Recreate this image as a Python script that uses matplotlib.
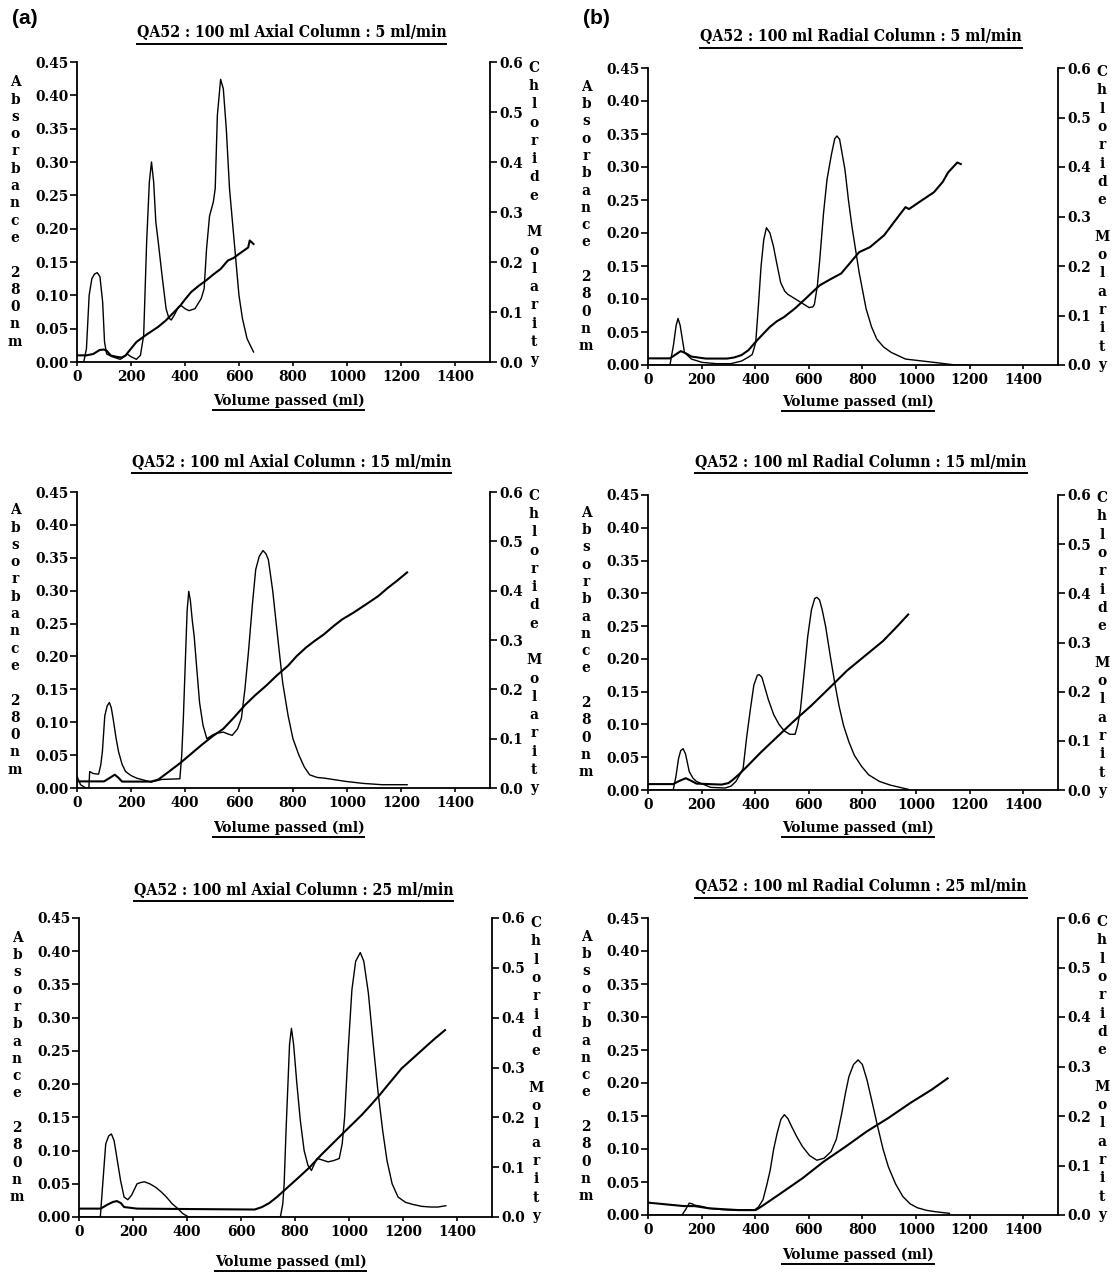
import matplotlib
matplotlib.use('Agg')
import matplotlib.pyplot as plt
from matplotlib.lines import Line2D

# ---- data (volume ml, absorbance 280nm / chloride M) ----
a1_vol = [0, 25, 35, 45, 55, 65, 75, 85, 95, 102, 110, 130, 160, 175, 186, 200, 220, 235, 247, 258,
          268, 276, 284, 292, 301, 315, 330, 340, 349, 360, 375, 385, 400, 415, 437, 460, 471, 480,
          491, 505, 512, 520, 532, 542, 553, 565, 586, 600, 613, 630, 654]
a1_abs = [0, 0, 0.02, 0.10, 0.125, 0.132, 0.134, 0.128, 0.09, 0.03, 0.012, 0.008, 0.004, 0.008, 0.012,
          0.008, 0.004, 0.01, 0.04, 0.18, 0.27, 0.30, 0.27, 0.21, 0.18, 0.13, 0.08, 0.066, 0.063, 0.07,
          0.082, 0.085, 0.08, 0.077, 0.08, 0.095, 0.11, 0.17, 0.219, 0.24, 0.26, 0.37, 0.424, 0.41,
          0.35, 0.26, 0.164, 0.10, 0.065, 0.035, 0.015]
a1_cvol = [0, 35, 60, 84, 100, 111, 125, 150, 165, 180, 190, 205, 220, 261, 300, 329, 360, 383, 400,
           423, 450, 478, 505, 532, 559, 580, 600, 634, 640, 650, 654]
a1_cl = [0.0133, 0.0133, 0.016, 0.024, 0.025, 0.022, 0.013, 0.01, 0.009, 0.013, 0.02, 0.03, 0.04,
         0.056, 0.07, 0.083, 0.1, 0.113, 0.125, 0.14, 0.152, 0.163, 0.175, 0.186, 0.203, 0.208, 0.216,
         0.229, 0.243, 0.238, 0.236]

b1_vol = [0, 82, 95, 105, 112, 120, 136, 162, 202, 255, 309, 349, 375, 389, 402, 412, 422, 432, 442,
          455, 468, 480, 495, 510, 522, 562, 601, 615, 621, 632, 641, 655, 668, 685, 697, 705, 715,
          735, 748, 761, 788, 814, 834, 854, 880, 908, 961, 1067, 1147, 1190]
b1_abs = [0, 0, 0.03, 0.06, 0.0705, 0.06, 0.019, 0.009, 0.004, 0.002, 0.002, 0.006, 0.012, 0.016,
          0.034, 0.09, 0.15, 0.19, 0.208, 0.2, 0.18, 0.155, 0.125, 0.112, 0.107, 0.097, 0.087, 0.088,
          0.092, 0.12, 0.16, 0.23, 0.281, 0.32, 0.343, 0.347, 0.342, 0.296, 0.25, 0.21, 0.14, 0.085,
          0.058, 0.039, 0.027, 0.019, 0.009, 0.004, 0.0, 0.0]
b1_cvol = [0, 82, 100, 122, 140, 162, 216, 295, 320, 349, 375, 402, 430, 455, 480, 508, 550, 588, 615,
           641, 680, 721, 760, 788, 828, 881, 920, 961, 974, 1020, 1067, 1100, 1120, 1154, 1167]
b1_cl = [0.0134, 0.0134, 0.02, 0.028, 0.024, 0.017, 0.013, 0.013, 0.015, 0.02, 0.03, 0.047, 0.063,
         0.077, 0.088, 0.097, 0.115, 0.134, 0.148, 0.161, 0.173, 0.185, 0.21, 0.228, 0.238, 0.262,
         0.29, 0.319, 0.315, 0.332, 0.349, 0.37, 0.389, 0.409, 0.406]

a2_vol = [0, 13, 33, 44, 47, 60, 80, 88, 94, 103, 112, 120, 127, 134, 145, 154, 167, 180, 200, 221,
          274, 314, 381, 388, 394, 402, 408, 414, 420, 427, 434, 444, 454, 467, 481, 500, 515, 542,
          560, 575, 595, 609, 622, 635, 650, 662, 675, 689, 700, 709, 725, 743, 762, 782, 800, 822,
          842, 862, 890, 916, 996, 1060, 1130, 1223]
a2_abs = [0.018, 0.005, 0, 0, 0.025, 0.022, 0.021, 0.035, 0.055, 0.11, 0.125, 0.13, 0.122, 0.105,
          0.075, 0.055, 0.036, 0.025, 0.019, 0.015, 0.009, 0.013, 0.014, 0.05, 0.106, 0.2, 0.27, 0.299,
          0.285, 0.255, 0.231, 0.18, 0.13, 0.095, 0.075, 0.08, 0.083, 0.085, 0.082, 0.08, 0.09, 0.106,
          0.15, 0.206, 0.28, 0.332, 0.352, 0.361, 0.356, 0.347, 0.3, 0.231, 0.16, 0.11, 0.075, 0.05,
          0.032, 0.02, 0.016, 0.015, 0.01, 0.007, 0.005, 0.005]
a2_cvol = [0, 100, 120, 140, 155, 167, 274, 301, 340, 381, 420, 461, 500, 542, 580, 622, 660, 702, 740,
           782, 815, 849, 880, 916, 950, 983, 1023, 1070, 1116, 1150, 1183, 1223]
a2_cl = [0.0134, 0.0134, 0.02, 0.027, 0.02, 0.013, 0.013, 0.017, 0.033, 0.05, 0.068, 0.087, 0.104,
         0.12, 0.142, 0.168, 0.188, 0.208, 0.228, 0.248, 0.268, 0.285, 0.298, 0.312, 0.328, 0.342,
         0.355, 0.372, 0.389, 0.405, 0.419, 0.437]

b2_vol = [0, 94, 104, 114, 122, 131, 140, 154, 168, 181, 234, 288, 310, 328, 345, 355, 368, 382, 395,
          408, 415, 425, 437, 449, 469, 489, 509, 529, 549, 559, 569, 583, 596, 610, 622, 630, 640,
          650, 663, 680, 697, 713, 730, 750, 770, 797, 824, 864, 904, 940, 971]
b2_abs = [0, 0, 0.02, 0.048, 0.06, 0.063, 0.055, 0.028, 0.018, 0.013, 0.004, 0.003, 0.006, 0.013,
          0.025, 0.033, 0.08, 0.123, 0.16, 0.175, 0.176, 0.172, 0.155, 0.138, 0.115, 0.1, 0.09, 0.085,
          0.085, 0.1, 0.123, 0.18, 0.234, 0.275, 0.292, 0.294, 0.29, 0.275, 0.249, 0.205, 0.163, 0.128,
          0.098, 0.073, 0.053, 0.036, 0.023, 0.013, 0.0075, 0.004, 0.001]
b2_cvol = [0, 94, 115, 141, 160, 181, 275, 300, 315, 340, 368, 420, 476, 540, 610, 676, 743, 810, 877,
           925, 971]
b2_cl = [0.012, 0.012, 0.018, 0.024, 0.019, 0.013, 0.011, 0.014, 0.02, 0.032, 0.047, 0.076, 0.105,
         0.138, 0.172, 0.207, 0.243, 0.273, 0.303, 0.33, 0.357]

a3_vol = [0, 79, 88, 99, 110, 120, 130, 140, 154, 167, 181, 195, 215, 230, 242, 262, 283, 304, 324,
          345, 365, 385, 406, 515, 746, 755, 760, 767, 774, 780, 787, 795, 807, 820, 834, 848, 861,
          872, 882, 900, 923, 944, 964, 975, 984, 997, 1011, 1025, 1042, 1055, 1072, 1090, 1107, 1125,
          1141, 1160, 1182, 1210, 1236, 1270, 1304, 1330, 1359]
a3_abs = [0, 0, 0.05, 0.11, 0.122, 0.125, 0.115, 0.09, 0.055, 0.03, 0.026, 0.033, 0.05, 0.052, 0.053,
          0.05, 0.045, 0.038, 0.03, 0.02, 0.013, 0.005, 0, 0, 0, 0.02, 0.05, 0.13, 0.2, 0.26, 0.284,
          0.26, 0.201, 0.145, 0.1, 0.078, 0.07, 0.08, 0.088, 0.086, 0.083, 0.085, 0.088, 0.11, 0.15,
          0.25, 0.342, 0.385, 0.398, 0.385, 0.337, 0.26, 0.191, 0.13, 0.085, 0.05, 0.03, 0.022, 0.019,
          0.016, 0.015, 0.015, 0.017]
a3_cvol = [0, 80, 106, 125, 140, 155, 167, 215, 400, 651, 678, 705, 733, 774, 815, 855, 896, 937, 978,
           1012, 1046, 1080, 1114, 1155, 1195, 1236, 1277, 1316, 1356]
a3_cl = [0.0168, 0.0168, 0.025, 0.03, 0.032, 0.028, 0.02, 0.0168, 0.016, 0.015, 0.02, 0.028, 0.04,
         0.06, 0.08, 0.1, 0.124, 0.146, 0.168, 0.186, 0.204, 0.224, 0.245, 0.272, 0.298, 0.318, 0.338,
         0.357, 0.375]

b3_vol = [0, 127, 140, 154, 164, 174, 200, 228, 281, 335, 395, 412, 429, 443, 456, 469, 482, 496, 509,
          522, 536, 556, 576, 603, 630, 657, 683, 703, 723, 737, 750, 767, 784, 800, 817, 837, 857,
          877, 897, 924, 951, 978, 1005, 1040, 1072, 1125]
b3_abs = [0, 0, 0.008, 0.018, 0.017, 0.015, 0.013, 0.01, 0.008, 0.007, 0.007, 0.012, 0.023, 0.045,
          0.068, 0.1, 0.124, 0.145, 0.152, 0.146, 0.134, 0.118, 0.104, 0.09, 0.083, 0.086, 0.096, 0.115,
          0.154, 0.185, 0.21, 0.228, 0.235, 0.228, 0.205, 0.17, 0.134, 0.1, 0.073, 0.047, 0.028, 0.017,
          0.011, 0.007, 0.005, 0.0025]
b3_cvol = [0, 134, 174, 228, 335, 402, 420, 442, 496, 576, 656, 737, 817, 897, 978, 1058, 1118]
b3_cl = [0.025, 0.018, 0.018, 0.0135, 0.01, 0.01, 0.016, 0.024, 0.044, 0.074, 0.108, 0.138, 0.169,
         0.196, 0.226, 0.253, 0.276]

titles = ['QA52 : 100 ml Axial Column : 5 ml/min', 'QA52 : 100 ml Radial Column : 5 ml/min',
          'QA52 : 100 ml Axial Column : 15 ml/min', 'QA52 : 100 ml Radial Column : 15 ml/min',
          'QA52 : 100 ml Axial Column : 25 ml/min', 'QA52 : 100 ml Radial Column : 25 ml/min']
abs_ticks = [0.00, 0.05, 0.10, 0.15, 0.20, 0.25, 0.30, 0.35, 0.40, 0.45]
cl_ticks = [0.0, 0.1, 0.2, 0.3, 0.4, 0.5, 0.6]
vol_ticks = [0, 200, 400, 600, 800, 1000, 1200, 1400]

W, H = 1117, 1276
FONT = dict(family='DejaVu Serif', stretch='condensed', weight='bold')
fig = plt.figure(figsize=(W / 100, H / 100), dpi=100)
underline = []

def ftext(x, y, s, **kw):
    return fig.text(x / W, 1 - y / H, s, **FONT, **kw)

def panel(box, title, vol, ab, cvol, cl, title_y, xlab_y):
    l, r, t, b = box
    ax = fig.add_axes([l / W, 1 - b / H, (r - l) / W, (b - t) / H])
    ax2 = ax.twinx()
    ax.plot(vol, ab, color='black', lw=1.0)
    ax2.plot(cvol, cl, color='black', lw=1.5)
    ax.set_xlim(0, 1530)
    ax.set_ylim(0, 0.45)
    ax2.set_ylim(0, 0.6)
    ax.set_xticks(vol_ticks)
    ax.set_xticklabels([str(v) for v in vol_ticks])
    ax.set_yticks(abs_ticks)
    ax.set_yticklabels(['%.2f' % v for v in abs_ticks])
    ax2.set_yticks(cl_ticks)
    ax2.set_yticklabels(['%.1f' % v for v in cl_ticks])
    for s in ['top', 'right']:
        ax.spines[s].set_visible(False)
    for s in ['top', 'left', 'bottom']:
        ax2.spines[s].set_visible(False)
    for sp in [ax.spines['left'], ax.spines['bottom'], ax2.spines['right']]:
        sp.set_linewidth(1.3)
    ax.tick_params(axis='y', length=5, width=1.2, pad=1)
    ax.tick_params(axis='x', length=3, width=1.2, pad=3)
    ax2.tick_params(axis='y', length=5, width=1.2, pad=2)
    for lab in ax.get_xticklabels() + ax.get_yticklabels() + ax2.get_yticklabels():
        lab.set_family(FONT['family'])
        lab.set_stretch(FONT['stretch'])
        lab.set_weight('bold')
        lab.set_fontsize(11)
    cx = (l + r) / 2
    underline.append(ftext(cx + 8, title_y, title, ha='center', va='center', fontsize=11.3))
    underline.append(ftext(cx + 5, xlab_y, 'Volume passed (ml)', ha='center', va='center', fontsize=11))
    mid = (t + b) / 2
    ftext(l - 62, mid, '\n'.join(list('Absorbance') + [' '] + list('280nm')),
          ha='center', va='center', fontsize=11, linespacing=1.3)
    ftext(r + 44, mid + 2, '\n'.join(list('Chloride') + [' '] + list('Molarity')),
          ha='center', va='center', fontsize=11, linespacing=1.39)

panel((77, 490, 62, 362), titles[0], a1_vol, a1_abs, a1_cvol, a1_cl, 33, 401)
panel((648, 1058, 68, 365), titles[1], b1_vol, b1_abs, b1_cvol, b1_cl, 37, 402)
panel((77, 490, 492, 788), titles[2], a2_vol, a2_abs, a2_cvol, a2_cl, 463, 828)
panel((648, 1058, 495, 790), titles[3], b2_vol, b2_abs, b2_cvol, b2_cl, 463, 828)
panel((79, 492, 918, 1217), titles[4], a3_vol, a3_abs, a3_cvol, a3_cl, 890, 1262)
panel((648, 1058, 918, 1215), titles[5], b3_vol, b3_abs, b3_cvol, b3_cl, 887, 1255)

fig.text(12 / W, 1 - 18 / H, '(a)', family='Liberation Sans', weight='bold', fontsize=15, va='center')
fig.text(583 / W, 1 - 18 / H, '(b)', family='Liberation Sans', weight='bold', fontsize=15, va='center')

fig.canvas.draw()
for t in underline:
    bb = t.get_window_extent()
    fig.add_artist(Line2D([bb.x0 / W, bb.x1 / W], [(bb.y0 - 2) / H] * 2, color='black', lw=1.4,
                          transform=fig.transFigure))

fig.savefig('out.png', dpi=100, facecolor='white')
